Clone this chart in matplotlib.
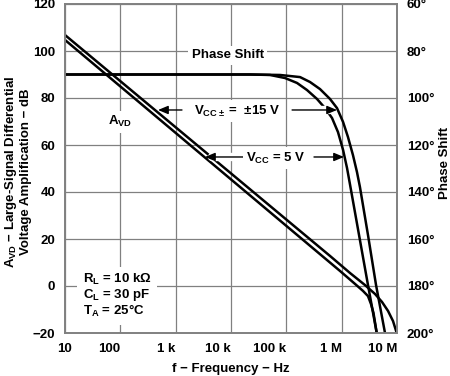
import matplotlib
matplotlib.use("Agg")
import matplotlib.pyplot as plt


# ================= DATA =================
# large-signal differential voltage amplification, dB
gain_15v_freq = [10, 615e3, 1.42e6, 2.64e6, 4.01e6, 5.36e6, 6.88e6, 8.47e6, 9.89e6]
gain_15v_db = [106.8, 12.8, 5.5, 0.4, -3.4, -6.8, -10.6, -14.9, -20]

gain_5v_freq = [10, 933e3, 1.74e6, 2.43e6, 2.99e6, 3.39e6, 3.76e6, 4.30e6]
gain_5v_db = [104.7, 6.4, 0.9, -2.1, -4.3, -7.7, -11.5, -20]

# phase shift, degrees
phase_15v_freq = [10, 22e3, 77e3, 177e3, 268e3, 406e3, 615e3, 824e3, 1.06e6,
                  1.30e6, 1.60e6, 1.89e6, 2.14e6, 2.99e6, 4.18e6, 6.07e6]
phase_15v_deg = [90, 90, 90.2, 91.1, 93.2, 96.2, 100.4, 104.3, 110.2,
                 116.6, 124.3, 131.5, 137.9, 158.3, 179.6, 200]

phase_5v_freq = [10, 22e3, 50.7e3, 94.6e3, 156e3, 236e3, 358e3, 500e3, 669e3,
                 858e3, 1.06e6, 1.25e6, 1.42e6, 2.06e6, 2.99e6, 4.30e6]
phase_5v_deg = [90, 90, 90.2, 91.5, 93.6, 96.6, 100.4, 104.3, 108.5,
                114.5, 122.1, 129.8, 137.0, 158.3, 179.6, 200]

x_ticks = [10, 100, 1e3, 1e4, 1e5, 1e6, 1e7]
x_tick_labels = ["10", "100", "1 k", "10 k", "100 k", "1 M", "10 M"]
db_ticks = [-20, 0, 20, 40, 60, 80, 100, 120]
db_tick_labels = ["\u221220", "0", "20", "40", "60", "80", "100", "120"]
phase_ticks = [60, 80, 100, 120, 140, 160, 180, 200]
phase_tick_labels = [f"{p}\u00b0" for p in phase_ticks]
conditions = ["R$_{L}$ = 10 k\u03a9", "C$_{L}$ = 30 pF", "T$_{A}$ = 25\u00b0C"]
# =============================================================

plt.rcParams["font.family"] = ["Liberation Sans", "DejaVu Sans"]
plt.rcParams["font.weight"] = "bold"
plt.rcParams["font.size"] = 9.5
plt.rcParams["mathtext.fontset"] = "custom"
plt.rcParams["mathtext.rm"] = "Liberation Sans:bold"
plt.rcParams["mathtext.it"] = "Liberation Sans:bold"
plt.rcParams["mathtext.bf"] = "Liberation Sans:bold"
plt.rcParams["mathtext.default"] = "rm"

GRID = "#808080"

fig = plt.figure(figsize=(4.5, 3.76), dpi=100)
ax = fig.add_axes([65 / 450, 43 / 376, 332 / 450, 329 / 376])
ax.set_xscale("log")
ax2 = ax.twinx()

ax.set_xlim(10, 1e7)
ax.set_ylim(-20, 120)
ax2.set_ylim(200, 60)

ax.set_xticks(x_ticks, x_tick_labels)
ax.minorticks_off()
ax.set_yticks(db_ticks, db_tick_labels)
ax2.set_yticks(phase_ticks, phase_tick_labels)
ax.tick_params(length=0, pad=7)
ax2.tick_params(length=0, pad=7)
for lbl in ax.get_xticklabels()[1:]:
    lbl.set_horizontalalignment("right")

ax.grid(True, color=GRID, lw=0.9)
ax.set_axisbelow(True)
for a in (ax, ax2):
    for sp in a.spines.values():
        sp.set_color(GRID)
        sp.set_linewidth(1.2)

# -------- curves --------
ax.plot(gain_15v_freq, gain_15v_db, color="black", lw=1.8, zorder=2)
ax.plot(gain_5v_freq, gain_5v_db, color="black", lw=1.8, zorder=2)
ax.plot(phase_15v_freq, phase_15v_deg, color="black", lw=1.8, zorder=2,
        transform=ax2.transData)
ax.plot(phase_5v_freq, phase_5v_deg, color="black", lw=1.8, zorder=2,
        transform=ax2.transData)
ax.set_xlim(10, 1e7)
ax.set_ylim(-20, 120)

# -------- labels inside the plot --------
box = dict(facecolor="white", edgecolor="none", pad=2.5)
ax.text(8.8e3, 96.9, "Phase Shift", ha="center", va="baseline", bbox=box, zorder=4)
ax.text(99, 68.5, "A$_{VD}$", ha="center", va="baseline", bbox=box, zorder=4)
ax.text(12.9e3, 72.8, "V$_{CC\\pm}$ =  \u00b115 V", ha="center", va="baseline",
        bbox=box, zorder=4)
ax.text(65e3, 52.9, "V$_{CC}$ = 5 V", ha="center", va="baseline", bbox=box, zorder=4)

ax.text(21, -4.2, "\n".join(conditions), ha="left", va="center", linespacing=1.0,
        bbox=dict(facecolor="white", edgecolor="none", pad=4), zorder=4)


def arrow(tail, tip, halo=False):
    if halo:
        ax.annotate("", xy=tip, xytext=tail, zorder=2.5,
                    arrowprops=dict(arrowstyle="-", color="white", lw=6,
                                    shrinkA=0, shrinkB=5))
    ax.annotate("", xy=tip, xytext=tail, zorder=3,
                arrowprops=dict(arrowstyle="-|>,head_length=0.6,head_width=0.25",
                                color="black", lw=1, mutation_scale=10,
                                shrinkA=0, shrinkB=0))


arrow((1.30e3, 74.9), (480, 74.9))
arrow((127e3, 74.9), (824e3, 74.9), halo=True)
arrow((16.5e3, 54.9), (3.39e3, 54.9), halo=True)
arrow((316e3, 54.9), (1.10e6, 54.9))

# -------- axis titles --------
fig.text(17.5 / 450, 1 - 172 / 376,
         "A$_{VD}$ \u2212 Large-Signal Differential\nVoltage Amplification \u2212 dB",
         rotation=90, ha="center", va="center", multialignment="center",
         linespacing=1.15)
fig.text(445 / 450, 1 - 163 / 376, "Phase Shift", rotation=90, ha="center", va="center")
fig.text(231 / 450, 1 - 369 / 376, "f \u2212 Frequency \u2212 Hz", ha="center", va="center")

fig.savefig("out.png", dpi=100, facecolor="white")
